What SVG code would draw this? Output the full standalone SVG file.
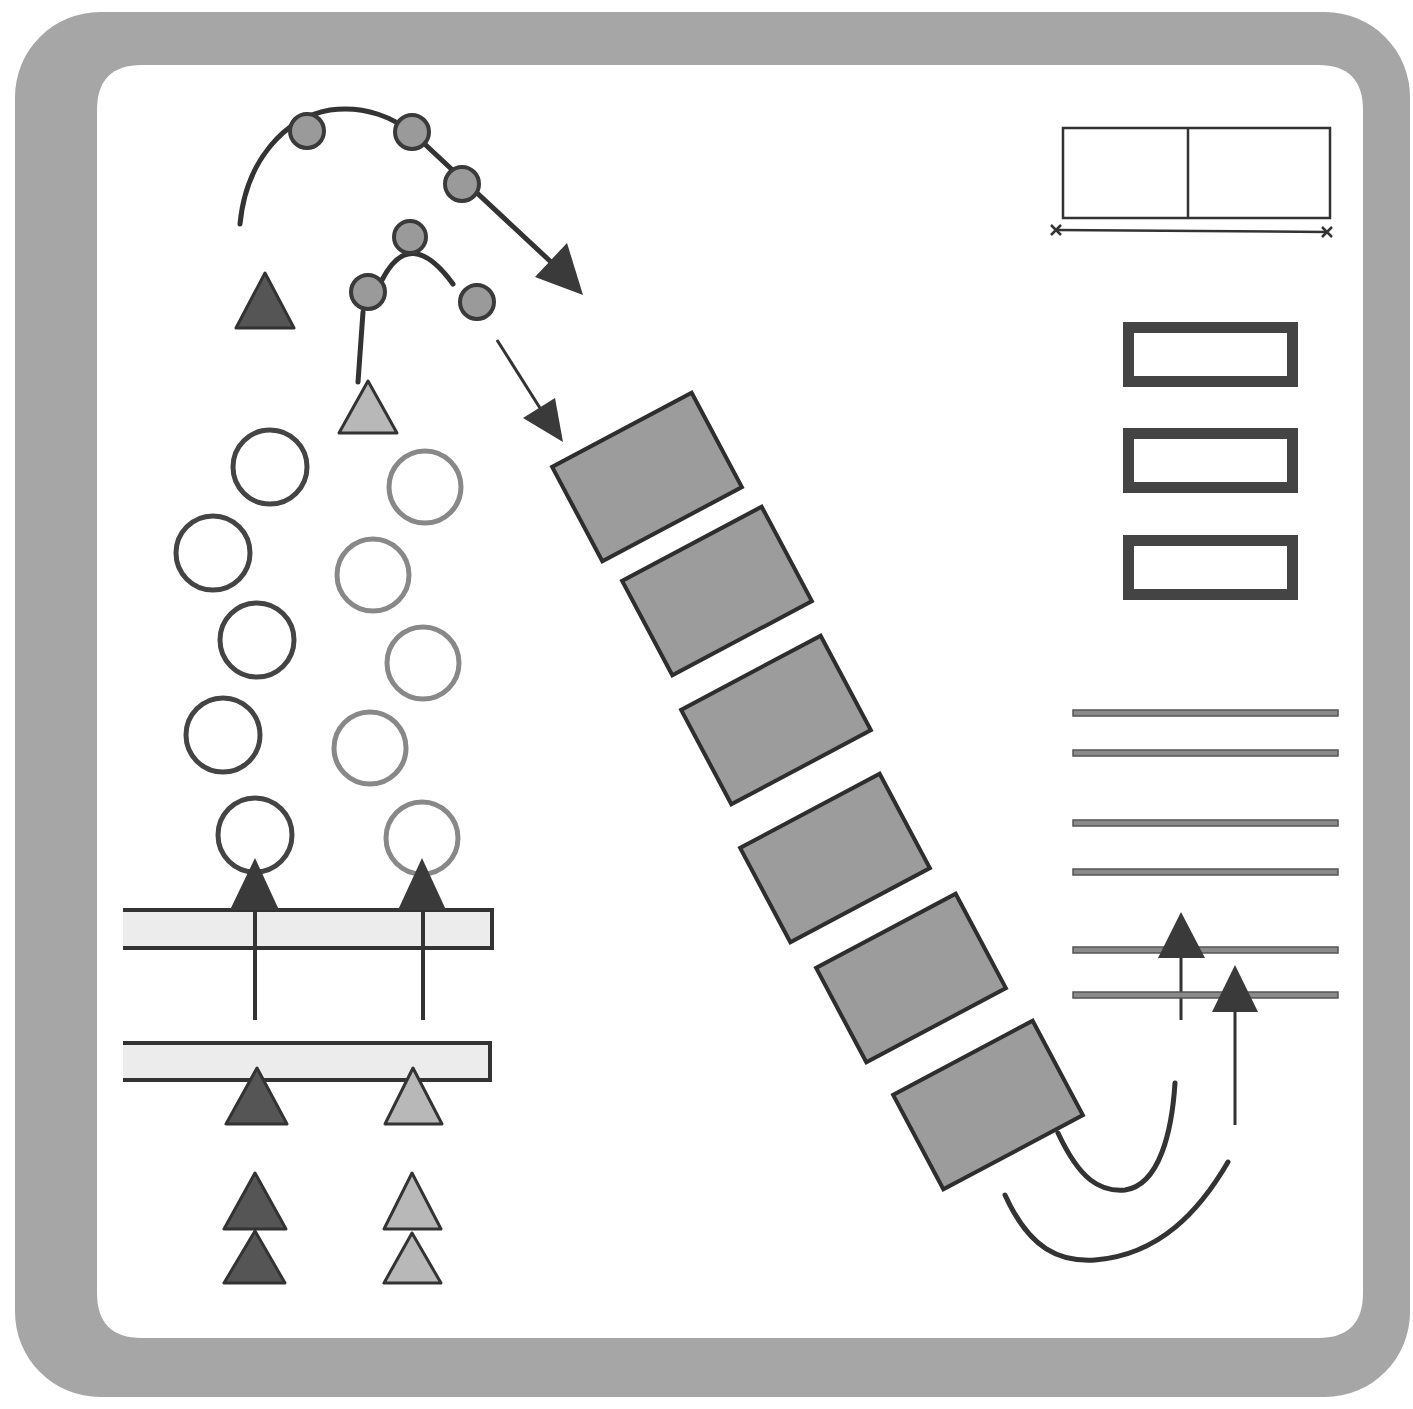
<svg xmlns="http://www.w3.org/2000/svg" width="1413" height="1409" viewBox="0 0 1413 1409">
<defs>
<style>
.ln{fill:none;stroke:#333;stroke-width:5;stroke-linecap:round}
.thin{fill:none;stroke:#333;stroke-width:3}
.head{fill:#3a3a3a;stroke:none}
.dot{fill:#9a9a9a;stroke:#3a3a3a;stroke-width:4}
.tdark{fill:#555;stroke:#333;stroke-width:3;stroke-linejoin:round}
.tlight{fill:#b8b8b8;stroke:#333;stroke-width:3;stroke-linejoin:round}
.cdark{fill:none;stroke:#444;stroke-width:5}
.clight{fill:none;stroke:#888;stroke-width:5}
.blk{fill:#9c9c9c;stroke:#2e2e2e;stroke-width:4}
.hollow{fill:#fff;stroke:#444;stroke-width:11}
.hline{fill:#8a8a8a;stroke:#555;stroke-width:1.5}
.bar{fill:#ececec;stroke:none}
.barEdge{fill:none;stroke:#333;stroke-width:4}
</style>
</defs>
<rect width="1413" height="1409" fill="#fff"/>
<g id="frame">
<path fill="#a6a6a6" fill-rule="evenodd" d="M100,12 H1325 A85,85 0 0 1 1410,97 V1312 A85,85 0 0 1 1325,1397 H100 A85,85 0 0 1 15,1312 V97 A85,85 0 0 1 100,12 Z M142,65 H1318 A45,45 0 0 0 1363,110 V1293 A45,45 0 0 0 1318,1338 H142 A45,45 0 0 0 97,1293 V110 A45,45 0 0 0 142,65 Z"/>
</g>
<path fill="#fff" d="M142,65 H1318 Q1363,65 1363,110 V1293 Q1363,1338 1318,1338 H142 Q97,1338 97,1293 V110 Q97,65 142,65 Z"/>

<g id="connectors">
<path class="ln" d="M240,224 C246,160 285,118 330,110 C365,105 395,118 415,135 L551,262"/>
<polygon class="head" points="583,295 535,277 567,243"/>
<path class="ln" d="M382,280 Q410,225 453,284"/>
<path class="ln" d="M363,312 L358,382"/>
<path class="thin" d="M497,340 L540,408"/>
<polygon class="head" points="563,442 523,418 555,398"/>
<path class="barEdge" d="M255,910 V1020 M423,910 V1020"/>
<path class="ln" d="M1058,1133 C1080,1180 1100,1192 1125,1190 C1160,1185 1172,1130 1175,1083"/>
<path class="ln" d="M1005,1195 C1030,1250 1060,1262 1095,1260 C1160,1255 1200,1210 1228,1162"/>
<path class="thin" d="M1181,958 V1020"/>
<path class="thin" d="M1235,1012 V1125"/>
</g>

<g id="dots">
<circle class="dot" cx="307" cy="131" r="17"/>
<circle class="dot" cx="412" cy="132" r="17"/>
<circle class="dot" cx="462" cy="184" r="17"/>
<circle class="dot" cx="410" cy="237" r="16"/>
<circle class="dot" cx="368" cy="292" r="17"/>
<circle class="dot" cx="477" cy="302" r="17"/>
</g>

<g id="top-triangles">
<polygon class="tdark" points="236,328 265,273 294,328"/>
<polygon class="tlight" points="339,433 368,381 397,433"/>
</g>

<g id="circles-left">
<circle class="cdark" cx="270" cy="467" r="37"/>
<circle class="cdark" cx="213" cy="553" r="37"/>
<circle class="cdark" cx="257" cy="640" r="37"/>
<circle class="cdark" cx="223" cy="735" r="37"/>
<circle class="cdark" cx="255" cy="835" r="37"/>
</g>
<g id="circles-right">
<circle class="clight" cx="425" cy="487" r="36"/>
<circle class="clight" cx="373" cy="575" r="36"/>
<circle class="clight" cx="423" cy="663" r="36"/>
<circle class="clight" cx="370" cy="748" r="36"/>
<circle class="clight" cx="422" cy="838" r="36"/>
</g>

<g id="bar-top">
<rect class="bar" x="123" y="910" width="369" height="38"/>
<path class="barEdge" d="M123,910 H492 V948 H123"/>
<path class="barEdge" d="M255,910 V948 M423,910 V948"/>
</g>
<g id="bar-bottom">
<rect class="bar" x="123" y="1043" width="367" height="37"/>
<path class="barEdge" d="M123,1043 H490 V1080 H123"/>
</g>

<g id="bar-arrowheads">
<polygon class="head" points="255,858 230,910 279,910"/>
<polygon class="head" points="422,858 398,910 446,910"/>
</g>

<g id="lower-triangles">
<polygon class="tdark" points="257,1068 226,1124 287,1124"/>
<polygon class="tlight" points="413,1068 385,1124 442,1124"/>
<polygon class="tdark" points="255,1173 224,1229 286,1229"/>
<polygon class="tdark" points="255,1231 224,1283 285,1283"/>
<polygon class="tlight" points="412,1173 384,1229 441,1229"/>
<polygon class="tlight" points="412,1233 384,1283 441,1283"/>
</g>

<g id="blocks">
<rect class="blk" x="-79" y="-53.5" width="158" height="107" transform="translate(647,477) rotate(-28)"/>
<rect class="blk" x="-79" y="-53.5" width="158" height="107" transform="translate(717,591) rotate(-28)"/>
<rect class="blk" x="-79" y="-53.5" width="158" height="107" transform="translate(776,720) rotate(-28)"/>
<rect class="blk" x="-79" y="-53.5" width="158" height="107" transform="translate(835,858) rotate(-28)"/>
<rect class="blk" x="-79" y="-53.5" width="158" height="107" transform="translate(911,978) rotate(-28)"/>
<rect class="blk" x="-79" y="-53.5" width="158" height="107" transform="translate(988,1105) rotate(-28)"/>
</g>

<g id="split-box">
<rect x="1063" y="128" width="267" height="90" fill="none" stroke="#333" stroke-width="2.5"/>
<line x1="1188" y1="128" x2="1188" y2="218" stroke="#333" stroke-width="2.5"/>
<line x1="1056" y1="230" x2="1327" y2="232" stroke="#333" stroke-width="2.5"/>
<path d="M1051,225 L1061,235 M1061,225 L1051,235 M1322,227 L1332,237 M1332,227 L1322,237" stroke="#333" stroke-width="2.5"/>
</g>

<g id="hollow-rects">
<rect class="hollow" x="1128.5" y="327.5" width="164" height="54"/>
<rect class="hollow" x="1128.5" y="433.5" width="164" height="54"/>
<rect class="hollow" x="1128.5" y="540.5" width="164" height="54"/>
</g>

<g id="hlines">
<rect class="hline" x="1073" y="710" width="265" height="6"/>
<rect class="hline" x="1073" y="750" width="265" height="6"/>
<rect class="hline" x="1073" y="820" width="265" height="6"/>
<rect class="hline" x="1073" y="869" width="265" height="6"/>
<rect class="hline" x="1073" y="947" width="265" height="6"/>
<rect class="hline" x="1073" y="992" width="265" height="6"/>
</g>
<g id="right-arrowheads">
<polygon class="head" points="1181,912 1158,958 1205,958"/>
<polygon class="head" points="1235,965 1212,1012 1258,1012"/>
</g>
</svg>
